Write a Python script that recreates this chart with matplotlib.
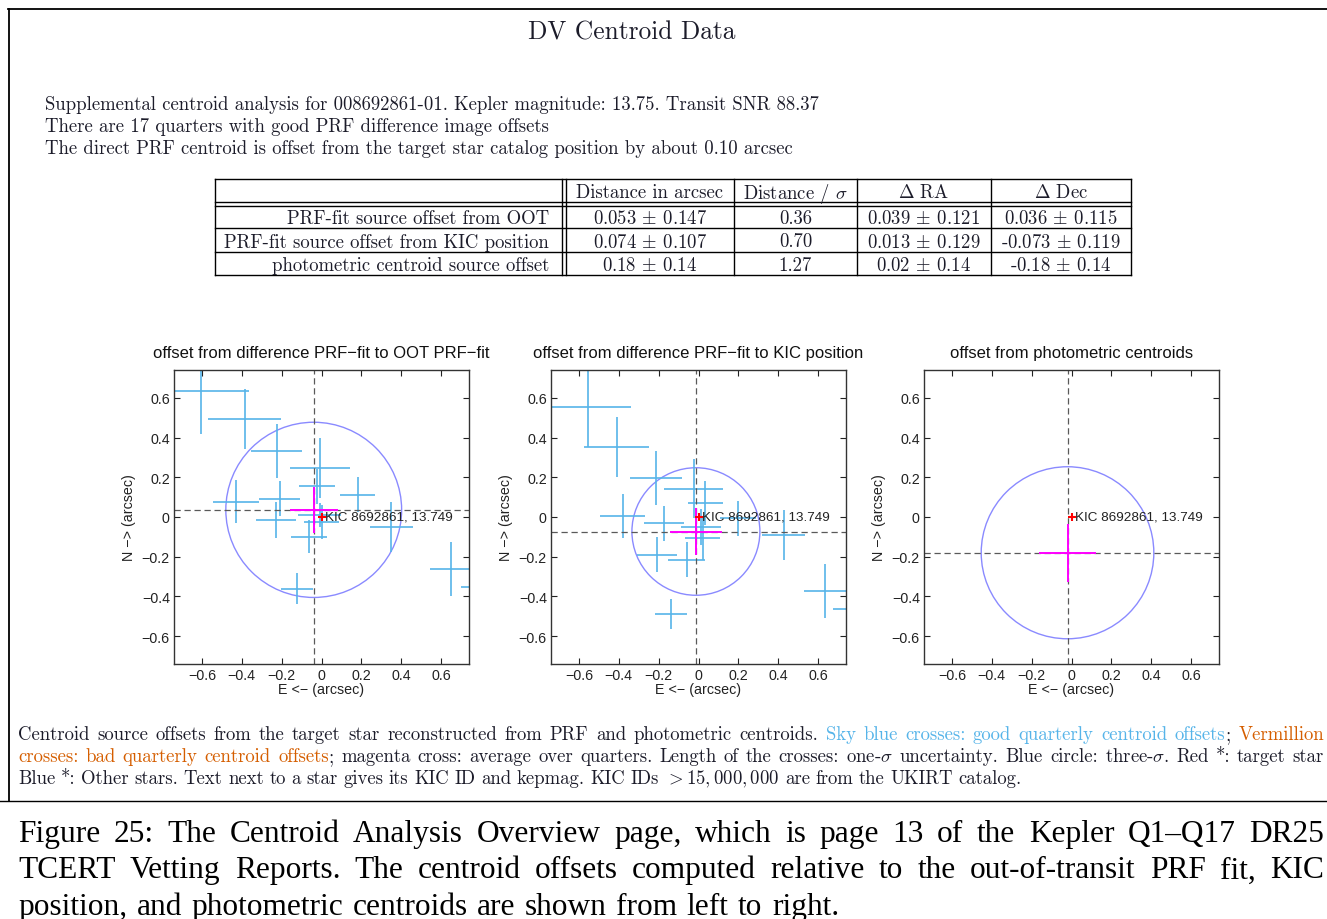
import matplotlib
matplotlib.use("Agg")
import matplotlib.pyplot as plt
from matplotlib.lines import Line2D
from matplotlib.patches import Circle

# DATA (arcsec, x axis is E <- so x = -dRA)

panel_titles = ["offset from difference PRF\u2212fit to OOT PRF\u2212fit",
                "offset from difference PRF\u2212fit to KIC position",
                "offset from photometric centroids"]

# quarterly centroid offsets, OOT panel
oot_x = [-0.607, -0.386, -0.224, -0.008, -0.022, 0.181, -0.428, -0.210, -0.229, 0.351, -0.062, -0.010, 0.000, -0.122, 0.650, 0.800]
oot_y = [0.636, 0.494, 0.333, 0.246, 0.154, 0.112, 0.077, 0.092, -0.015, -0.049, -0.099, 0.012, -0.025, -0.360, -0.260, -0.352]
oot_xerr = [0.242, 0.184, 0.128, 0.151, 0.089, 0.088, 0.114, 0.104, 0.101, 0.107, 0.092, 0.107, 0.088, 0.081, 0.107, 0.100]
oot_yerr = [0.217, 0.150, 0.136, 0.151, 0.087, 0.088, 0.109, 0.089, 0.090, 0.127, 0.083, 0.060, 0.085, 0.077, 0.136, 0.120]

# quarterly centroid offsets, KIC panel
kic_x = [-0.556, -0.411, -0.214, -0.025, 0.035, -0.381, -0.172, 0.197, 0.022, 0.427, -0.210, -0.060, -0.137, 0.636, 0.780, 0.012]
kic_y = [0.552, 0.351, 0.197, 0.142, 0.072, 0.005, -0.032, -0.007, -0.104, -0.092, -0.191, -0.214, -0.488, -0.371, -0.463, -0.050]
kic_xerr = [0.215, 0.161, 0.129, 0.150, 0.088, 0.114, 0.101, 0.090, 0.088, 0.106, 0.100, 0.091, 0.079, 0.105, 0.107, 0.100]
kic_yerr = [0.200, 0.150, 0.135, 0.149, 0.110, 0.109, 0.089, 0.089, 0.111, 0.125, 0.088, 0.088, 0.075, 0.136, 0.120, 0.090]

quarters = [(oot_x, oot_y, oot_xerr, oot_yerr),
            (kic_x, kic_y, kic_xerr, kic_yerr),
            None]

# average over quarters (magenta) and 3-sigma circle
avg_x = [-0.039, -0.013, -0.020]
avg_y = [0.036, -0.073, -0.180]
avg_xerr = [0.121, 0.129, 0.144]
avg_yerr = [0.115, 0.119, 0.146]
circle_r = [0.441, 0.321, 0.433]

target_label = "KIC 8692861, 13.749"

table_header = ["", "Distance in arcsec", r"Distance / $\sigma$", r"$\Delta$ RA", r"$\Delta$ Dec"]
table_rows = [
    ["PRF-fit source offset from OOT", r"0.053 $\pm$ 0.147", "0.36", r"0.039 $\pm$ 0.121", r"0.036 $\pm$ 0.115"],
    ["PRF-fit source offset from KIC position", r"0.074 $\pm$ 0.107", "0.70", r"0.013 $\pm$ 0.129", r"-0.073 $\pm$ 0.119"],
    ["photometric centroid source offset", r"0.18 $\pm$ 0.14", "1.27", r"0.02 $\pm$ 0.14", r"-0.18 $\pm$ 0.14"],
]

header_lines = [
    "Supplemental centroid analysis for 008692861-01. Kepler magnitude: 13.75. Transit SNR 88.37",
    "There are 17 quarters with good PRF difference image offsets",
    "The direct PRF centroid is offset from the target star catalog position by about 0.10 arcsec",
]

SKY = "#56B4E9"
VERM = "#D55E00"
INK = "#1c1c2a"

note_lines = [
    [("Centroid source offsets from the target star reconstructed from PRF and photometric centroids. ", INK),
     ("Sky blue crosses: good quarterly centroid offsets", SKY), ("; ", INK), ("Vermillion", VERM)],
    [("crosses: bad quarterly centroid offsets", VERM),
     (r"; magenta cross: average over quarters. Length of the crosses: one-$\sigma$ uncertainty. Blue circle: three-$\sigma$. Red *: target star", INK)],
    [(r"Blue *: Other stars. Text next to a star gives its KIC ID and kepmag. KIC IDs $>15,000,000$ are from the UKIRT catalog.", INK)],
]

fig_caption = [
    "Figure 25: The Centroid Analysis Overview page, which is page 13 of the Kepler Q1\u2013Q17 DR25",
    "TCERT Vetting Reports. The centroid offsets computed relative to the out-of-transit PRF fit, KIC",
    "position, and photometric centroids are shown from left to right.",
]

# ---------------------------------------------------------------------------
W, H = 1327, 920
plt.rcParams['font.family'] = ['Liberation Sans', 'DejaVu Sans']
plt.rcParams['mathtext.fontset'] = 'cm'

fig = plt.figure(figsize=(W / 100, H / 100), dpi=100)
renderer = fig.canvas.get_renderer()

TEX = 13.5  # size of the LaTeX-looking page text


def fx(px):
    return px / W


def fy(py):
    return 1 - py / H


def hline(x0, x1, y, lw=1.0):
    fig.add_artist(Line2D([fx(x0), fx(x1)], [fy(y), fy(y)], color='k', lw=lw))


def vline(x, y0, y1, lw=1.0):
    fig.add_artist(Line2D([fx(x), fx(x)], [fy(y0), fy(y1)], color='k', lw=lw))


def split_words(segments):
    words = []
    join = False
    for text, color in segments:
        parts = text.split(' ')
        for i, p in enumerate(parts):
            if i > 0:
                join = False
            if p:
                if join and words:
                    words[-1].append((p, color))
                else:
                    words.append([(p, color)])
                join = True
    return words


def put_line(segments, x0, x1, y, size, family, last=False):
    words = split_words(segments)
    placed = []
    total = 0
    for w in words:
        arts = []
        for txt, col in w:
            t = fig.text(0, fy(y), txt, fontsize=size, family=family, color=col, va='baseline')
            wd = t.get_window_extent(renderer).width
            arts.append((t, wd))
            total += wd
        placed.append(arts)
    if last or len(words) < 2:
        gap = size * 100 / 72 * 0.3
    else:
        gap = (x1 - x0 - total) / (len(words) - 1)
    x = x0
    for arts in placed:
        for t, wd in arts:
            t.set_x(fx(x))
            x += wd
        x += gap


# page frame
hline(8, W, 10, 1.3)
vline(9, 10, 802, 1.3)
hline(0, W, 802, 1.0)

fig.text(fx(632), fy(39), "DV Centroid Data", family='cmr10', fontsize=18.3, ha='center', va='baseline', color=INK)
for i, line in enumerate(header_lines):
    fig.text(fx(45), fy(110 + 22 * i), line, family='cmr10', fontsize=TEX, va='baseline', color=INK)

# table
hline(215, 1131, 180)
hline(215, 1131, 203)
hline(215, 1131, 206.5)
hline(215, 1131, 229)
hline(215, 1131, 252.5)
hline(215, 1131, 276)
for x in [215, 562, 566, 734, 857, 991, 1131]:
    vline(x, 180, 276)
col_centers = [549, 650, 795.5, 924, 1061]
row_y = [191, 217, 240.5, 264]
for r, row in enumerate([table_header] + table_rows):
    for c, cell in enumerate(row):
        fig.text(fx(col_centers[c]), fy(row_y[r]), cell, family='cmr10', fontsize=TEX,
                 ha='right' if c == 0 else 'center', va='center_baseline', color=INK)

# centroid panels
ax_left = [174, 551, 924]
for k in range(3):
    ax = fig.add_axes([fx(ax_left[k]), fy(665), 295 / W, 294 / H])
    lim = 0.74
    ax.set_xlim(-lim, lim)
    ax.set_ylim(-lim, lim)
    if quarters[k] is not None:
        qx, qy, qxe, qye = quarters[k]
        ax.errorbar(qx, qy, xerr=qxe, yerr=qye, fmt='none', ecolor=SKY, elinewidth=1.2, capsize=0)
    ax.add_patch(Circle((avg_x[k], avg_y[k]), circle_r[k], fill=False, ec='#8a8aff', lw=1.0))
    ax.axvline(avg_x[k], color='0.35', ls=(0, (5, 3)), lw=0.9)
    ax.axhline(avg_y[k], color='0.35', ls=(0, (5, 3)), lw=0.9)
    ax.errorbar([avg_x[k]], [avg_y[k]], xerr=[avg_xerr[k]], yerr=[avg_yerr[k]], fmt='none',
                ecolor='#ff00ff', elinewidth=1.4, capsize=0)
    ax.plot([0], [0], marker='+', color='red', ms=6, mew=1.5, ls='none')
    ax.text(0.02, 0, target_label, fontsize=9.7, va='center', ha='left', color='#222222')
    ticks = [-0.6, -0.4, -0.2, 0, 0.2, 0.4, 0.6]
    ax.set_xticks(ticks)
    ax.set_yticks(ticks)
    ax.set_xticklabels(["\u22120.6", "\u22120.4", "\u22120.2", "0", "0.2", "0.4", "0.6"])
    ax.set_yticklabels(["\u22120.6", "\u22120.4", "\u22120.2", "0", "0.2", "0.4", "0.6"])
    ax.tick_params(direction='in', length=4, top=True, right=True, labelsize=10.3, colors='#222222', pad=3)
    for s in ax.spines.values():
        s.set_color('#333333')
        s.set_linewidth(1.0)
    ax.set_title(panel_titles[k], fontsize=12, pad=9, color='#111111')
    ax.set_xlabel("E <\u2212 (arcsec)", fontsize=10.3, labelpad=0, color='#222222')
    ax.set_ylabel("N \u2212> (arcsec)", fontsize=10.3, labelpad=4, color='#222222')

# note under the panels (justified)
for i, seg in enumerate(note_lines):
    put_line(seg, 18, 1324, 740 + 22 * i, TEX, 'cmr10', last=(i == len(note_lines) - 1))

# figure caption (justified)
for i, line in enumerate(fig_caption):
    put_line([(line, 'black')], 18, 1324, 842 + 36.5 * i, 22.6, 'Liberation Serif', last=(i == len(fig_caption) - 1))

fig.savefig("out.png", dpi=100)
